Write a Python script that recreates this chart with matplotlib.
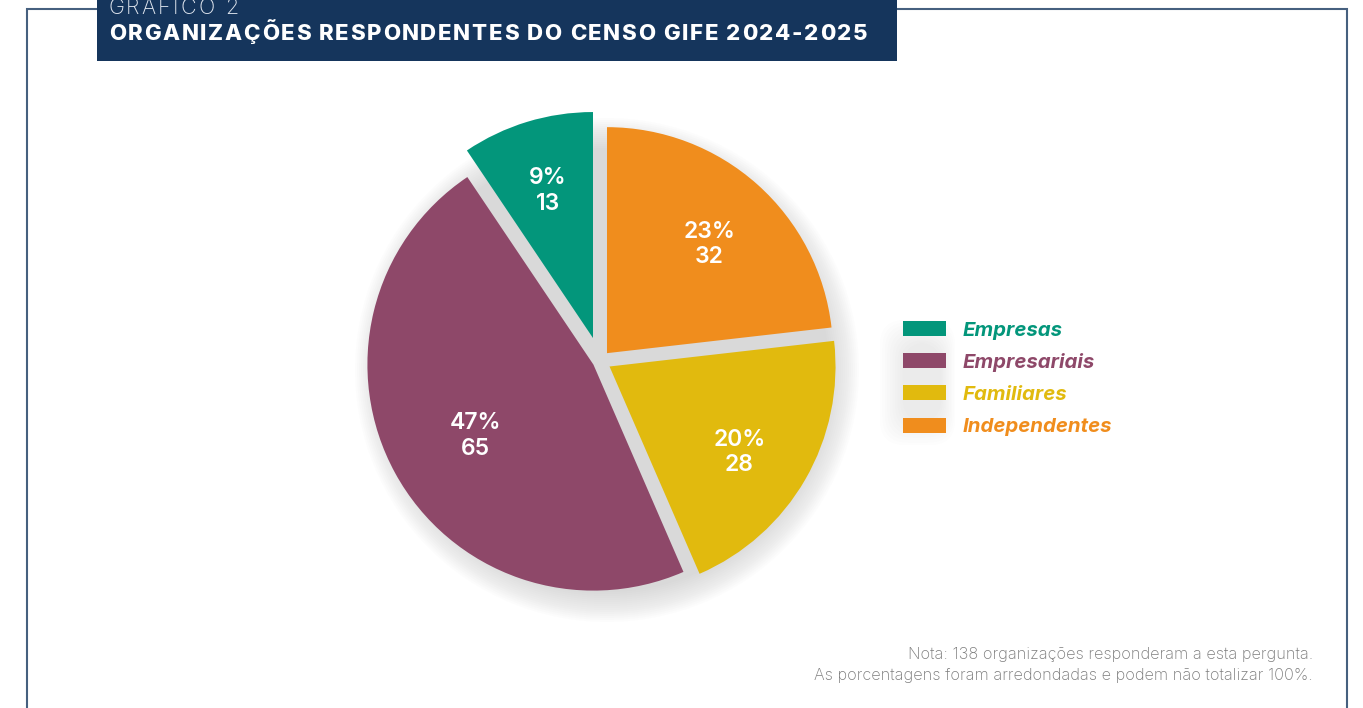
import matplotlib
matplotlib.use('Agg')
import matplotlib.pyplot as plt
import matplotlib.patches as mpatches
import numpy as np

# data
categories = ['Empresas', 'Empresariais', 'Familiares', 'Independentes']
counts = [13, 65, 28, 32]
colors = ['#03967B', '#8E4869', '#E1BA0E', '#F08D1D']

title_top = 'GRÁFICO 2'
title = 'ORGANIZAÇÕES RESPONDENTES DO CENSO GIFE 2024-2025'
note_lines = ['Nota: 138 organizações responderam a esta pergunta.',
              'As porcentagens foram arredondadas e podem não totalizar 100%.']

W, H = 1363, 708
NAVY = '#15355C'
FRAME = '#46607F'

plt.rcParams['font.family'] = ['Inter', 'DejaVu Sans']

fig = plt.figure(figsize=(W / 100, H / 100), dpi=100)
ax = fig.add_axes([0, 0, 1, 1])
renderer = fig.canvas.get_renderer()


def Y(y):
    # image row -> data y (axes is in pixels, y up)
    return H - y


def spaced_text(x, y, s, width, **kw):
    """Draw s starting at x with letter spacing so it spans width pixels."""
    def w_of(txt):
        t = ax.text(0, 0, txt, **kw)
        w = t.get_window_extent(renderer).width
        t.remove()
        return w
    sp = w_of('H H') - w_of('HH')
    widths = [sp if c == ' ' else w_of(c) for c in s]
    gap = (width - sum(widths)) / (len(s) - 1)
    cx = x
    for c, w in zip(s, widths):
        if c != ' ':
            ax.text(cx, y, c, ha='left', va='baseline', **kw)
        cx += w + gap


# soft shadow behind the pie
for k in range(16):
    ax.add_patch(mpatches.Circle((607, Y(370)), 252 - 2 * k, color='#9a9a9a',
                                 alpha=0.024, lw=0, zorder=0))

# faint shadow behind the legend swatches
for k in range(10):
    ax.add_patch(mpatches.FancyBboxPatch(
        (880 + 2.5 * k, Y(445) + 2.5 * k), 75 - 4 * k, 125 - 5 * k,
        boxstyle='round,pad=0,rounding_size=25', color='#a0a0a0',
        alpha=0.018, lw=0, zorder=0))

explode = [24, 7.5, 11, 10.5]
label_dist = [0.68, 0.61, 0.69, 0.66]
label_turn = [0, 2.5, -3.5, -1.5]
total = sum(counts)


def fmt(pct):
    return f'{pct:.0f}%\n{round(pct * total / 100):d}'


wedges, _, autotexts = ax.pie(
    counts, colors=colors, startangle=90, counterclock=True,
    center=(600, Y(361)), radius=226, explode=explode,
    autopct=fmt, pctdistance=0.66,
    wedgeprops=dict(linewidth=0),
    textprops=dict(color='white', fontsize=16.5, fontweight='semibold',
                   linespacing=1.2, ha='center', va='center'))

# per-slice label placement
for w, t, d, turn in zip(wedges, autotexts, label_dist, label_turn):
    th = np.deg2rad((w.theta1 + w.theta2) / 2 + turn)
    cx, cy = w.center
    t.set_position((cx + d * w.r * np.cos(th), cy + d * w.r * np.sin(th)))
    t.set_zorder(5)

ax.set_xlim(0, W)
ax.set_ylim(0, H)
ax.set_aspect('auto')
ax.axis('off')

# frame
ax.plot([27, 27, 97], [0, Y(9), Y(9)], color=FRAME, lw=1.5, solid_joinstyle='miter', zorder=1)
ax.plot([897, 1347, 1347], [Y(9), Y(9), 0], color=FRAME, lw=1.5, solid_joinstyle='miter', zorder=1)

# title box
ax.add_patch(mpatches.Rectangle((97, Y(61)), 800, 70, color=NAVY, lw=0, zorder=2))
spaced_text(108, Y(14), title_top, 130, color='#dfe5ee', fontsize=15.5,
            fontweight='light', zorder=3)
spaced_text(109, Y(40), title, 758, color='white', fontsize=16,
            fontweight='heavy', zorder=3)

# legend
row_y = [328.5, 360.5, 392.5, 425]
for cat, col, ry in zip(categories, colors, row_y):
    ax.add_patch(mpatches.Rectangle((903, Y(ry + 7.5)), 43, 15, color=col, lw=0, zorder=3))
    ax.text(963, Y(ry + 7.5), cat, color=col, fontsize=14.7, fontweight='bold',
            fontstyle='italic', ha='left', va='baseline', zorder=3)

# note
for line, by in zip(note_lines, [659, 680]):
    ax.text(1313, Y(by), line, color='#7c7c7c', fontsize=11.7, fontweight='light',
            ha='right', va='baseline')

fig.savefig('out.png', dpi=100)
